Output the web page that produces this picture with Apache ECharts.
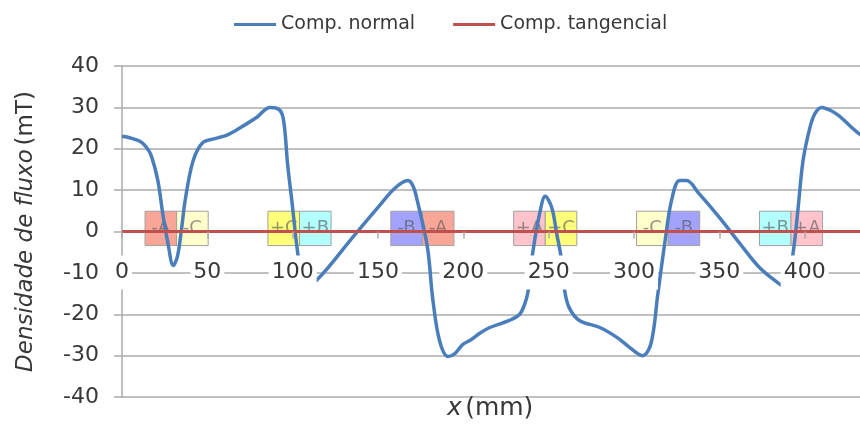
<!DOCTYPE html>
<html>
<head>
<meta charset="utf-8">
<script src="https://cdn.jsdelivr.net/npm/echarts@6/dist/echarts.min.js"></script>
<style>html,body{margin:0;padding:0;background:#fff}#c{width:860px;height:433px}</style>
</head>
<body>
<div id="c"></div>
<script>
// Comp. normal (x in mm, flux density in mT)
const normalX = [0,5,10.5,14,17,21,24,27,30,32.5,35,37,41.6,47.4,55,61.5,69,79,86.7,90.5,93.7,95.4,97,99.5,103,106,108.5,114,136,151,160,167.5,170.5,173,179,182,186,191,195,199.6,204,209.6,215.5,227,233,236,238,240.6,244.7,248,251.8,254.7,257.6,259.4,262,268,280,290,297.4,305,310,314,318,322,326.7,330.8,338,350,362,373.5,385,389,393,396,399,403,406,410,415,420,432,440];
const normalY = [23,22.6,21.8,20.5,18.5,12.3,4,-3,-8.2,-6,1,7.5,17,21.5,22.5,23.3,25,27.6,30,29.8,28.5,24.4,16.4,7.5,-5.3,-12,-12.5,-11.8,-1,6.3,10.5,12.3,11,7.5,-3.9,-16,-26.3,-30.2,-29.5,-27.3,-26.3,-24.6,-23.2,-21.5,-20,-17.5,-14.3,-5.3,4.3,8.5,5.8,-0.5,-7,-14.3,-18.4,-21.5,-23.2,-25.6,-28,-30,-27,-15,-2.9,7.5,12.3,12.3,9.2,3.4,-2.9,-8.7,-12.6,-13.5,-5.8,5,17,25,28.5,30,29.3,28,23.6,22];
// Comp. tangencial
const tangX = [0,450];
const tangY = [0,0];
// coil-side boxes
const boxStart = [13.5,32,85.5,104,157.5,176,229.5,248,301.5,320,373.5,392];
const boxWidth = 18.5;
const boxBottom = -3.4;
const boxTop = 4.9;
const boxLabels = ['-A','-C','+C','+B','-B','-A','+A','+C','-C','-B','+B','+A'];
const xTicks = [0,50,100,150,200,250,300,350,400];
const yTicks = [-40,-30,-20,-10,0,10,20,30,40];

const boxFill = {'-A':'#f9a597','+A':'#ffc3cc','-C':'#ffffcc','+C':'#ffff7a','-B':'#a3a3ff','+B':'#b3ffff'};

const chart = echarts.init(document.getElementById('c'), null, {renderer:'canvas'});
const FONT = 'DejaVu Sans';
const TXT = '#383838';
const GRID = '#ababab';
const GRID_TOP = 66, GRID_H = 331;

const boxData = boxStart.map((s,i)=>[s, s+boxWidth, boxBottom, boxTop, boxLabels[i]]);

chart.setOption({
  animation:false,
  backgroundColor:'#fff',
  textStyle:{fontFamily:FONT},
  legend:{
    left:229, top:10, itemWidth:42, itemHeight:14, itemGap:38,
    icon:'path://M0,5.5 L42,5.5 L42,8.5 L0,8.5 Z',
    textStyle:{fontFamily:FONT, fontSize:19, color:TXT},
    data:['Comp. normal','Comp. tangencial']
  },
  grid:{left:122, top:GRID_TOP, width:768, height:GRID_H, containLabel:false, outerBoundsMode:'none'},
  xAxis:{
    type:'value', min:0, max:450, interval:50, z:6,
    position:'bottom', offset:-GRID_H/2,
    axisLine:{show:true, onZero:false, lineStyle:{color:'rgba(0,0,0,0)', width:0}},
    axisTick:{show:true, length:7, lineStyle:{color:GRID, width:1.5}},
    splitLine:{show:false},
    axisLabel:{
      margin:24, fontFamily:FONT, fontSize:22, color:TXT,
      backgroundColor:'#fff', padding:[6,3,6,3],
      formatter:v=> xTicks.indexOf(v)>=0 ? String(v) : ''
    }
  },
  yAxis:{
    type:'value', min:-40, max:40, interval:10, z:0,
    name:'{i|Densidade de fluxo} {n|(mT)}',
    nameLocation:'middle', nameGap:84,
    nameTextStyle:{
      rich:{
        i:{fontFamily:FONT, fontStyle:'italic', fontSize:23, color:TXT},
        n:{fontFamily:FONT, fontSize:23, color:TXT}
      }
    },
    axisLine:{show:true, onZero:false, lineStyle:{color:GRID, width:1.5}},
    axisTick:{show:true, length:8, lineStyle:{color:GRID, width:1.5}},
    splitLine:{show:true, lineStyle:{color:GRID, width:1.5}},
    axisLabel:{margin:23, fontFamily:FONT, fontSize:22, color:TXT,
      formatter:v=> yTicks.indexOf(v)>=0 ? String(v) : ''}
  },
  graphic:[{
    type:'text', left:447, top:396, z:10,
    style:{
      text:'{i|x} {n|(mm)}',
      rich:{
        i:{fontFamily:FONT, fontStyle:'italic', fontSize:25, fill:TXT, color:TXT},
        n:{fontFamily:FONT, fontSize:25, fill:TXT, color:TXT}
      }
    }
  }],
  series:[
    {
      type:'custom', name:'boxes', z:1, silent:true,
      data:boxData,
      renderItem:(params, api)=>{
        const p0 = api.coord([api.value(0), api.value(3)]);
        const p1 = api.coord([api.value(1), api.value(2)]);
        const lab = boxLabels[params.dataIndex];
        return {
          type:'rect',
          shape:{x:p0[0], y:p0[1], width:p1[0]-p0[0], height:p1[1]-p0[1]},
          style:{fill:boxFill[lab], stroke:'#a0a0a0', lineWidth:1},
          textContent:{style:{text:lab, fill:'rgba(90,90,90,0.65)', font:'18px "DejaVu Sans"'}},
          textConfig:{position:'inside'}
        };
      }
    },
    {
      type:'line', name:'Comp. normal', z:3,
      data:normalX.map((x,i)=>[x, normalY[i]]),
      smooth:0.35, symbol:'none',
      lineStyle:{color:'#4a7ebb', width:3.5},
      itemStyle:{color:'#4a7ebb'}
    },
    {
      type:'line', name:'Comp. tangencial', z:4,
      data:tangX.map((x,i)=>[x, tangY[i]]),
      symbol:'none',
      lineStyle:{color:'#c0504d', width:3},
      itemStyle:{color:'#c0504d'}
    }
  ]
});
</script>
</body>
</html>
